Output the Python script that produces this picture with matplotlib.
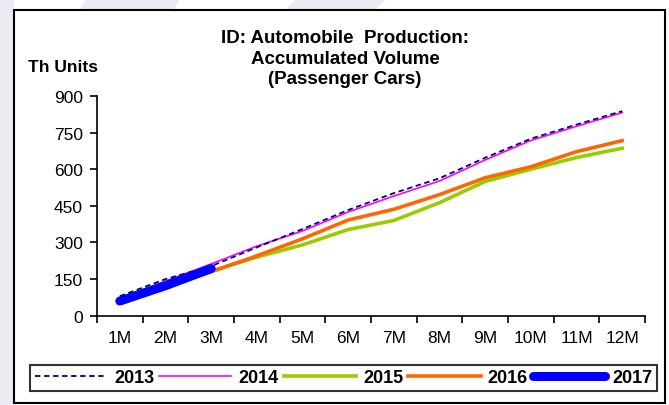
import matplotlib
matplotlib.use("Agg")
import matplotlib.pyplot as plt
from matplotlib.patches import Rectangle, Polygon

plt.rcParams["font.family"] = ["Liberation Sans", "DejaVu Sans"]

months = ["1M", "2M", "3M", "4M", "5M", "6M", "7M", "8M", "9M", "10M", "11M", "12M"]
y2013 = [80, 150, 203, 280, 355, 433, 502, 563, 647, 725, 783, 838]
y2014 = [70, 142, 212, 285, 347, 425, 490, 552, 638, 718, 776, 832]
y2015 = [63, 122, 183, 240, 290, 353, 390, 463, 550, 600, 648, 686]
y2016 = [62, 120, 180, 245, 315, 392, 436, 496, 565, 610, 672, 717]
y2017 = [60, 123, 193]
yticks = [0, 150, 300, 450, 600, 750, 900]

W, H = 669, 406
fig = plt.figure(figsize=(W / 100, H / 100), dpi=100)

# faint watermark stripes behind the frame
wm = "#ebebf3"
for pts in [[(86, 0), (180, 0), (0, 330), (0, 150)],
            [(296, 0), (386, 0), (330, 60), (240, 60)],
            [(0, 0), (14, 0), (14, 406), (0, 406)]]:
    fig.patches.append(Polygon([(x / W, 1 - y / H) for x, y in pts], closed=True,
                               transform=fig.transFigure, facecolor=wm,
                               edgecolor="none", zorder=0))

# outer frame
fig.patches.append(Rectangle((14 / W, 1 - 404 / H), 651 / W, 393 / H,
                             transform=fig.transFigure, facecolor="white",
                             edgecolor="black", linewidth=1.5, zorder=1))

ax = fig.add_axes([97 / W, 1 - 316.7 / H, 548 / W, 219.7 / H])
ax.set_zorder(2)
ax.patch.set_alpha(0)

x = list(range(len(months)))
ax.plot(x, y2014, color="#ff00ff", lw=1.2, label="2014", zorder=3)
ax.plot(x, y2013, color="#000080", lw=1.3, ls=(0, (3, 2)), label="2013", zorder=4)
ax.plot(x, y2015, color="#99cc00", lw=2.6, label="2015", zorder=3)
ax.plot(x, y2016, color="#ff6600", lw=2.6, label="2016", zorder=3)
ax.plot(x[:len(y2017)], y2017, color="#0000ff", lw=6.5, solid_capstyle="round",
        label="2017", zorder=5)

ax.set_xlim(-0.5, len(months) - 0.5)
ax.set_ylim(0, 900)
ax.set_yticks(yticks)
ax.set_xticks(x)
ax.set_xticklabels(months)
ax.set_xticks([i - 0.5 for i in range(len(months) + 1)], minor=True)
ax.tick_params(axis="x", which="major", length=0, pad=10, labelsize=12.5)
ax.tick_params(axis="x", which="minor", length=5, width=1.2, direction="out")
ax.tick_params(axis="y", length=5, width=1.2, direction="out", pad=5, labelsize=12.5)
for s in ["top", "right"]:
    ax.spines[s].set_visible(False)
for s in ["left", "bottom"]:
    ax.spines[s].set_linewidth(1.2)

fig.text(345 / W, 1 - 59 / H, "ID: Automobile  Production:\nAccumulated Volume\n(Passenger Cars)",
         ha="center", va="center", fontsize=13.5, fontweight="bold", linespacing=1.25,
         zorder=3)
fig.text(28 / W, 1 - 67 / H, "Th Units", ha="left", va="center", fontsize=12.5,
         fontweight="bold", zorder=3)

handles, labels = ax.get_legend_handles_labels()
order = [1, 0, 2, 3, 4]
leg = fig.legend([handles[i] for i in order], [labels[i] for i in order],
                 loc="lower left", bbox_to_anchor=(30 / W, 1 - 392 / H, 627 / W, 26 / H),
                 mode="expand", ncol=5, frameon=True, fancybox=False,
                 edgecolor="black", prop={"weight": "bold", "size": 13},
                 handlelength=4.0, handletextpad=0.4, columnspacing=0.6,
                 borderpad=0.25, borderaxespad=0)
leg.get_frame().set_linewidth(1.5)
leg.set_zorder(3)

fig.savefig("out.png", dpi=100)
